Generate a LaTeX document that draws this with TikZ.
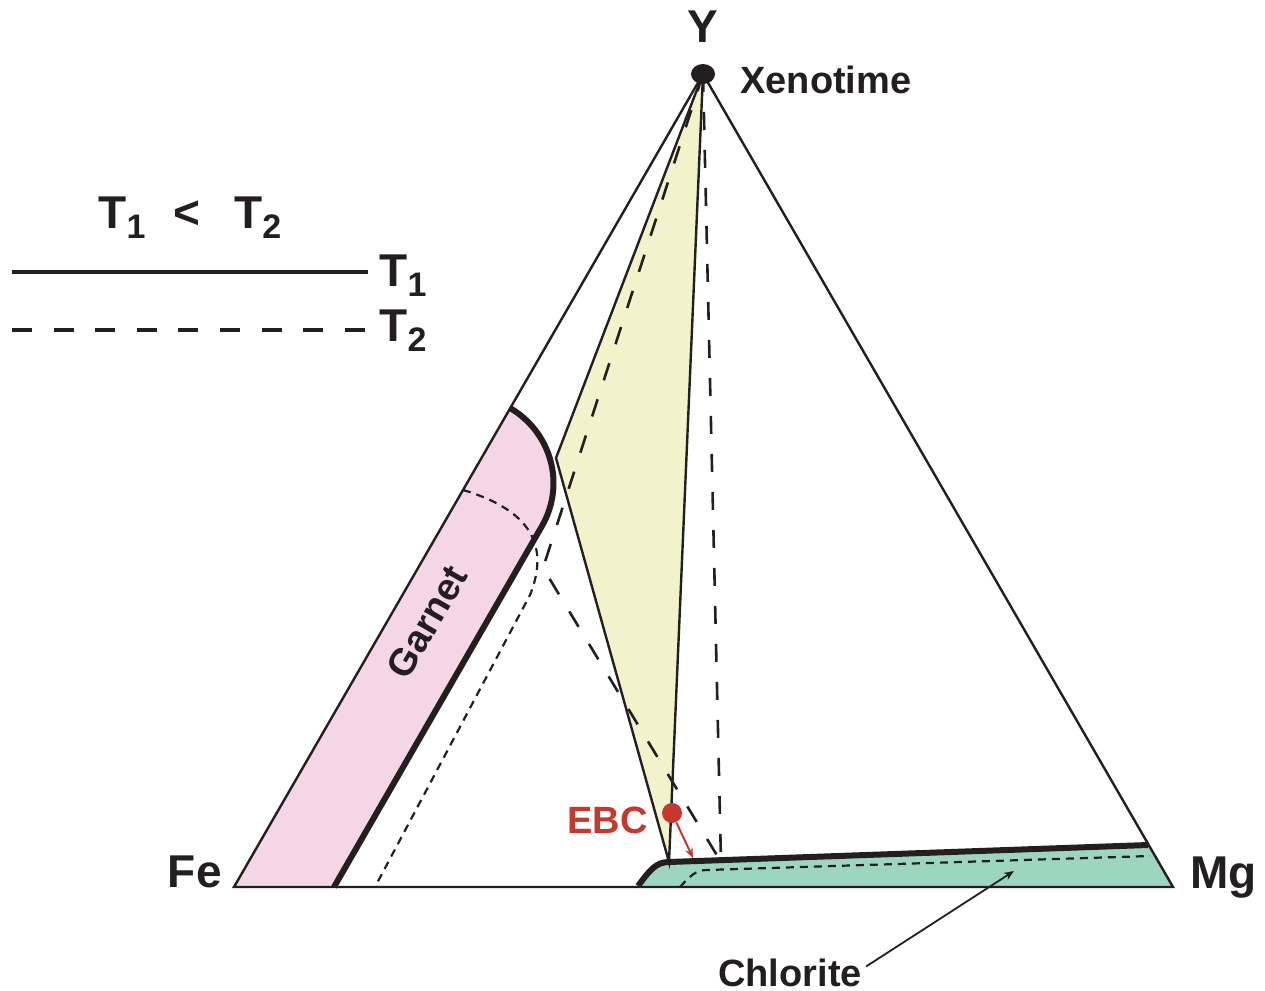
\documentclass[tikz,border=0pt]{standalone}
\usepackage{fontspec}
\setmainfont{Liberation Sans}
\usetikzlibrary{arrows.meta, positioning, shapes.geometric}
\definecolor{inkblack}{RGB}{35, 31, 32}
\definecolor{garnetpink}{RGB}{245, 214, 230}
\definecolor{tieyellow}{RGB}{242, 243, 203}
\definecolor{chloritegreen}{RGB}{157, 214, 190}
\definecolor{ebcred}{RGB}{198, 55, 45}
\newcommand{\tsub}[1]{\raisebox{-5pt}{\fontsize{17}{17}\selectfont #1}}
\tikzset{
  >=Stealth,
  triedge/.style={line width=1.2pt, inkblack},
  tieline/.style={line width=1.2pt, inkblack},
  tieline_dash/.style={line width=1.3pt, inkblack, dash pattern=on 9pt off 10pt},
  rimline/.style={line width=3pt, inkblack},
  rimline_dash/.style={line width=1.1pt, inkblack, dash pattern=on 4pt off 3pt},
  label_big/.style={font=\fontsize{23}{27}\selectfont\bfseries, text=inkblack, inner sep=0pt},
  label_mid/.style={font=\fontsize{19}{23}\selectfont\bfseries, text=inkblack, inner sep=0pt},
  pointer/.style={-{Stealth[length=5pt, width=4pt]}, line width=0.9pt, inkblack}
}

\begin{document}
\begin{tikzpicture}[x=0.5pt, y=-0.5pt]
    \useasboundingbox (0,0) rectangle (1265,991);

    % corners of the triangle
    \coordinate (Y) at (703,74);
    \coordinate (Fe) at (234,887);
    \coordinate (Mg) at (1173,887);

    % T1 points
    \coordinate (grt_top) at (510,408);
    \coordinate (grt_cap) at (542,526);
    \coordinate (grt_base) at (334,887);
    \coordinate (grt_tie) at (556,458);
    \coordinate (chl_base) at (638,886);
    \coordinate (chl_tie) at (669,862);
    \coordinate (chl_end) at (1148,845);

    % T2 points
    \coordinate (grt2_top) at (463,490);
    \coordinate (grt2_bend) at (530,595);
    \coordinate (grt2_base) at (375,887);
    \coordinate (grt2_tie) at (543,568);
    \coordinate (chl2_base) at (680,887);
    \coordinate (chl2_bend) at (707,870);
    \coordinate (chl2_end) at (1150,856);
    \coordinate (chl2_tie) at (721,862);

    \fill[garnetpink] (Fe) -- (grt_top) .. controls (551,432) and (566,484) .. (grt_cap) -- (grt_base) -- cycle;
    \fill[tieyellow] (Y) -- (grt_tie) -- (chl_tie) -- cycle;
    \fill[chloritegreen] (chl_base) .. controls (650,870) and (656,862) .. (chl_tie) -- (chl_end) -- (Mg) -- cycle;

    \draw[triedge] (Fe) -- (Y) -- (Mg) -- cycle;

    % tie lines
    \draw[tieline] (Y) -- (grt_tie) -- (chl_tie) -- cycle;
    \draw[tieline_dash] (Y) -- (grt2_tie) -- (chl2_tie);
    \draw[tieline_dash] (Y) -- (chl2_tie);

    % phase boundaries
    \draw[rimline] (grt_top) .. controls (551,432) and (566,484) .. (grt_cap) -- (grt_base);
    \draw[rimline] (chl_base) .. controls (650,870) and (656,862) .. (chl_tie) -- (chl_end);
    \draw[rimline_dash] (grt2_top) .. controls (530,510) and (550,545) .. (grt2_bend) -- (grt2_base);
    \draw[rimline_dash] (chl2_base) .. controls (690,876) and (696,870) .. (chl2_bend) -- (chl2_end);

    \node[ellipse, fill=inkblack, minimum width=12pt, minimum height=10pt, inner sep=0pt] (xeno) at (Y) {};
    \node[circle, fill=ebcred, minimum size=10pt, inner sep=0pt] (ebc) at (672,813) {};
    \coordinate (ebc_to) at (693,858);
    \draw[-{Stealth[length=5pt, width=4pt]}, line width=1pt, ebcred] (ebc) -- (ebc_to);

    \node[label_big, anchor=base] (ylabel) at (703,42) {Y};
    \node[label_mid, anchor=base west] (xlabel) at (740,93) {Xenotime};
    \node[label_big, anchor=base east] (felabel) at (222,887) {Fe};
    \node[label_big, anchor=base west] (mglabel) at (1190,888) {Mg};
    \node[label_mid, anchor=base east, text=ebcred] (ebclabel) at (648,833) {EBC};
    \node[label_mid, rotate=60] (grtlabel) at (427,622) {Garnet};
    \node[label_mid, anchor=base] (chllabel) at (790,986) {Chlorite};
    \coordinate (chl_point) at (1014,871);
    \draw[pointer] ([xshift=2pt, yshift=3pt]chllabel.east) -- (chl_point);

    % legend
    \node[label_big, anchor=base west] (ttitle) at (98,228) {T\tsub{1}\hspace{14pt}<\hspace{17pt}T\tsub{2}};
    \coordinate (leg1_a) at (12,272);
    \coordinate (leg1_b) at (368,272);
    \coordinate (leg2_a) at (12,330);
    \coordinate (leg2_b) at (366,330);
    \draw[line width=2.3pt, inkblack] (leg1_a) -- (leg1_b);
    \draw[line width=2.3pt, inkblack, dash pattern=on 10pt off 10.8pt] (leg2_a) -- (leg2_b);
    \node[label_big, anchor=base west] (leg1) at (379,286) {T\tsub{1}};
    \node[label_big, anchor=base west] (leg2) at (379,341) {T\tsub{2}};
\end{tikzpicture}
\end{document}
